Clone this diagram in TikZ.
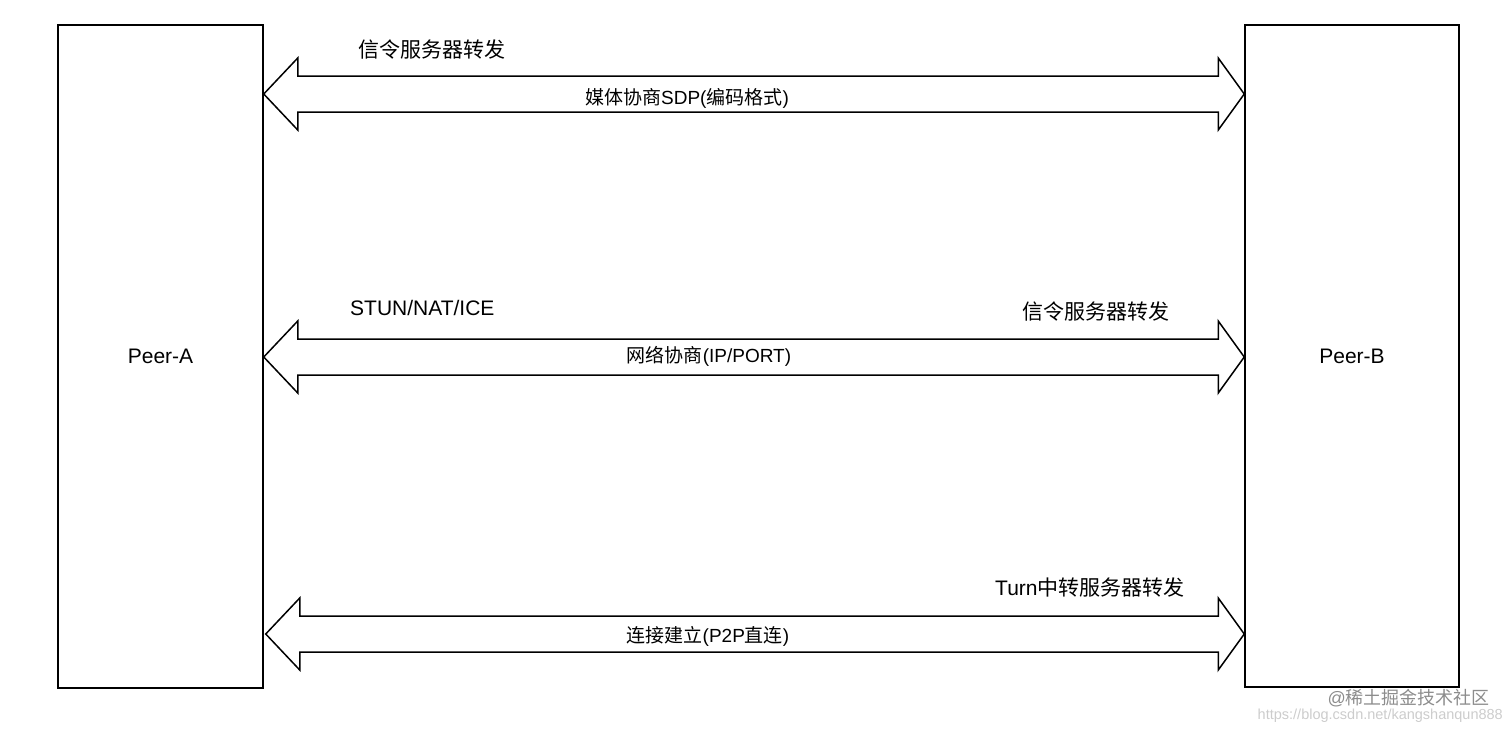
\documentclass[tikz,border=0pt]{standalone}
\usepackage{fontspec}
\setmainfont{Liberation Sans}
\newfontfamily\cjk{Noto Sans CJK SC}
\usepackage{tikz}
\usetikzlibrary{calc}

\newcommand{\zh}[1]{{\cjk #1}}
% wide two-headed arrow from tip #1 to tip #2
\newcommand{\fatarrow}[2]{%
	\draw [fatline] (#1) -- ($(#1)+(34bp,36bp)$) -- ($(#1)+(34bp,18bp)$)
		-- ($(#2)+(-26bp,18bp)$) -- ($(#2)+(-26bp,36bp)$) -- (#2)
		-- ($(#2)+(-26bp,-36bp)$) -- ($(#2)+(-26bp,-18bp)$)
		-- ($(#1)+(34bp,-18bp)$) -- ($(#1)+(34bp,-36bp)$) -- cycle;}

\tikzset{
	peer/.style={draw, line width=1.5bp, inner sep=0pt, font=\fontsize{21bp}{25bp}\selectfont},
	fatline/.style={draw, line width=1.5bp, line join=miter, fill=white},
	toplabel/.style={inner sep=0pt, font=\fontsize{21bp}{25bp}\selectfont},
	midlabel/.style={inner sep=0pt, font=\fontsize{19bp}{23bp}\selectfont},
}

\begin{document}
\begin{tikzpicture}
	\useasboundingbox (0bp,0bp) rectangle (1512bp,-729bp);

	\node (pa) at (160.5bp,-356.5bp) [peer, minimum width=205bp, minimum height=663bp] {Peer-A};
	\node (pb) at (1352bp,-356bp)    [peer, minimum width=214bp, minimum height=662bp] {Peer-B};

	\coordinate (a1) at (pa.east |- 0bp,-94bp);
	\coordinate (b1) at (pb.west |- 0bp,-94bp);
	\coordinate (a2) at (pa.east |- 0bp,-357bp);
	\coordinate (b2) at (pb.west |- 0bp,-357bp);
	\coordinate (a3) at ($(pa.east |- 0bp,-634bp)+(2bp,0bp)$);
	\coordinate (b3) at (pb.west |- 0bp,-634bp);

	\fatarrow{a1}{b1}
	\fatarrow{a2}{b2}
	\fatarrow{a3}{b3}

	\node (sig1) at (358bp,-50bp)  [toplabel, anchor=west] {\zh{信令服务器转发}};
	\node (sdp)  at (687bp,-98bp)  [midlabel] {\zh{媒体协商}SDP(\zh{编码格式})};
	\node (stun) at (350bp,-308bp) [toplabel, anchor=west] {STUN/NAT/ICE};
	\node (sig2) at (1022bp,-312bp) [toplabel, anchor=west] {\zh{信令服务器转发}};
	\node (net)  at (709bp,-356bp) [midlabel] {\zh{网络协商}(IP/PORT)};
	\node (turn) at (995bp,-588bp) [toplabel, anchor=west] {Turn\zh{中转服务器转发}};
	\node (p2p)  at (708bp,-636bp) [midlabel] {\zh{连接建立}(P2P\zh{直连})};

	\node (wm)  at (1490bp,-704bp) [anchor=base east, inner sep=0pt, text=black!45,
		font=\fontsize{18bp}{20bp}\selectfont] {@\zh{稀土掘金技术社区}};
	\node (url) at (1503bp,-719bp) [anchor=base east, inner sep=0pt, text=black!20,
		font=\fontsize{14.5bp}{16bp}\selectfont] {https://blog.csdn.net/kangshanqun888};
\end{tikzpicture}
\end{document}
